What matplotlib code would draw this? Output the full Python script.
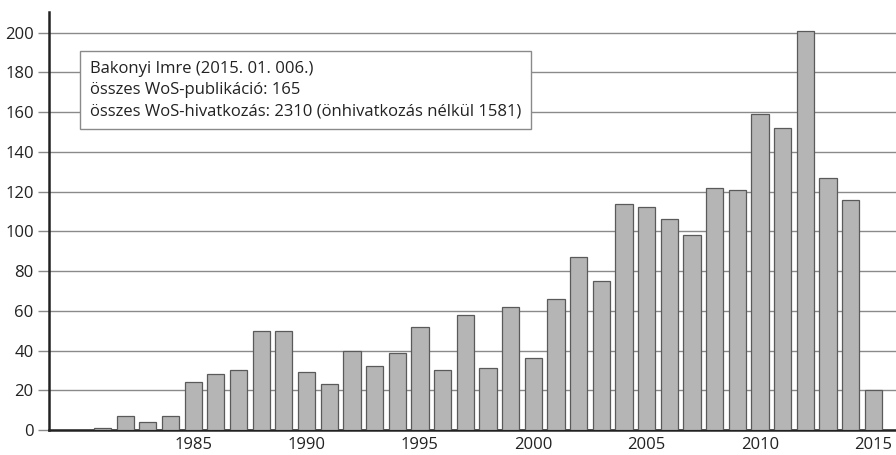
import matplotlib.pyplot as plt

plt.rcParams['font.family'] = ['Open Sans', 'DejaVu Sans']

YEARS = list(range(1981, 2016))
CITATIONS = [1, 7, 4, 7, 24, 28, 30, 50, 50, 29,
             23, 40, 32, 39, 52, 30, 58, 31, 62, 36,
             66, 87, 75, 114, 112, 106, 98, 122, 121, 159,
             152, 201, 127, 116, 20]
XTICKS = [1985, 1990, 1995, 2000, 2005, 2010, 2015]
YTICKS = list(range(0, 201, 20))
INFO_LINES = ['Bakonyi Imre (2015. 01. 006.)',
              'összes WoS-publikáció: 165',
              'összes WoS-hivatkozás: 2310 (önhivatkozás nélkül 1581)']


def main():
    fig = plt.figure(figsize=(8.96, 4.55), dpi=100)
    ax = fig.add_axes([0.0547, 0.055, 0.9453, 0.919])

    ax.bar(YEARS, CITATIONS, width=0.76, color='#b5b5b5',
           edgecolor='#5a5a5a', linewidth=0.9, zorder=3)

    ax.set_xlim(1978.64, 2016.0)
    ax.set_ylim(0, 210.5)
    ax.set_yticks(YTICKS)
    ax.set_xticks(XTICKS)
    ax.yaxis.grid(True, color='#8a8a8a', linewidth=1.0, zorder=0)

    for side in ('top', 'right'):
        ax.spines[side].set_visible(False)
    ax.spines['left'].set_linewidth(1.8)
    ax.spines['bottom'].set_linewidth(1.8)
    ax.spines['left'].set_color('#222222')
    ax.spines['bottom'].set_color('#222222')

    ax.tick_params(axis='y', length=8, width=1.0, color='#8a8a8a',
                   labelsize=12, pad=3, labelcolor='#222222')
    ax.tick_params(axis='x', length=0, labelsize=12, pad=5,
                   labelcolor='#222222')

    ax.text(0.0484, 0.813, '\n'.join(INFO_LINES), transform=ax.transAxes,
            fontsize=12, color='#222222', va='center', ha='left',
            linespacing=1.45, zorder=5,
            bbox=dict(boxstyle='square,pad=0.6', facecolor='white',
                      edgecolor='#8a8a8a', linewidth=1.0))

    fig.savefig('out.png', dpi=100)


if __name__ == '__main__':
    main()
